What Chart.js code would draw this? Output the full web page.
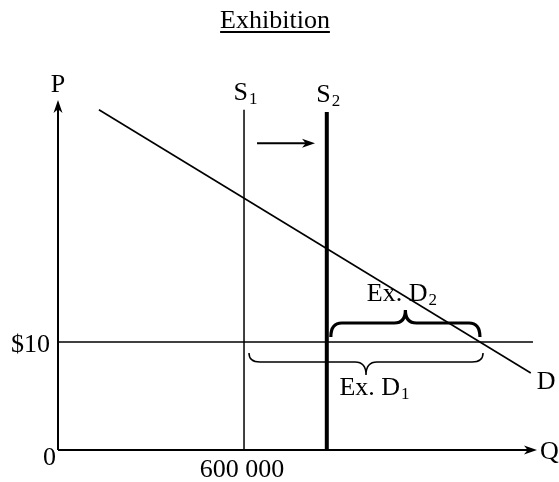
<!DOCTYPE html>
<html>
<head>
<meta charset="utf-8">
<script src="https://cdn.jsdelivr.net/npm/chart.js@4.4.1/dist/chart.umd.min.js"></script>
<style>
  html, body { margin: 0; padding: 0; background: #fff; }
  canvas { display: block; }
</style>
</head>
<body>
<canvas id="exhibitionChart" width="559" height="482"></canvas>
<script>
// data
const titleText = "Exhibition";
const qTickValues = [0, 600000];
const qTickLabels = ["0", "600 000"];
const pTickValues = [10];
const pTickLabels = ["$10"];
const supplyQ = [600000, 867000];
const supplyTop = [31.5, 31.3];
const supplySubs = ["1", "2"];
const demandQ = [132000, 1525000];
const demandP = [31.5, 7.13];
const worldPrice = 10;
const priceLineEnd = 1532000;
const shiftQ = [642000, 829000];
const shiftP = 28.4;
const excessD1 = [616000, 1371000];
const excessD2 = [880000, 1361000];
const qMax = 1545000;
const pMax = 32.4;

const FONT = "'Liberation Serif', 'Times New Roman', serif";

function pts(xs, ys) {
  return xs.map((x, i) => ({ x: x, y: ys[i] }));
}

function lineSet(data, width) {
  return {
    data: data,
    showLine: true,
    borderColor: "#000",
    borderWidth: width,
    pointRadius: 0,
    fill: false,
    clip: false
  };
}

// text with optional subscript
function subText(ctx, main, sub, x, y, align) {
  ctx.font = "26px " + FONT;
  const w1 = ctx.measureText(main).width;
  ctx.font = "17px " + FONT;
  const w2 = sub ? ctx.measureText(sub).width : 0;
  let left = x;
  if (align === "center") left = x - (w1 + w2) / 2;
  if (align === "right") left = x - (w1 + w2);
  ctx.textAlign = "left";
  ctx.textBaseline = "alphabetic";
  ctx.font = "26px " + FONT;
  ctx.fillText(main, left, y);
  if (sub) {
    ctx.font = "17px " + FONT;
    ctx.fillText(sub, left + w1 + 1, y + 4);
  }
}

function arrowHead(ctx, x, y, dx, dy) {
  const len = 13, half = 4.5;
  const px = -dy, py = dx;
  ctx.beginPath();
  ctx.moveTo(x, y);
  ctx.lineTo(x - dx * len + px * half, y - dy * len + py * half);
  ctx.lineTo(x - dx * len * 0.72, y - dy * len * 0.72);
  ctx.lineTo(x - dx * len - px * half, y - dy * len - py * half);
  ctx.closePath();
  ctx.fill();
}

// curly brace between x1 and x2; dir -1 opens downward (points up)
function brace(ctx, x1, x2, yb, dir, h, tip, width) {
  const xm = (x1 + x2) / 2;
  const yh = yb + dir * h;
  const yt = yb + dir * tip;
  const r = 11;
  ctx.beginPath();
  ctx.moveTo(x1, yb);
  ctx.quadraticCurveTo(x1, yh, x1 + r, yh);
  ctx.lineTo(xm - r, yh);
  ctx.quadraticCurveTo(xm, yh, xm, yt);
  ctx.quadraticCurveTo(xm, yh, xm + r, yh);
  ctx.lineTo(x2 - r, yh);
  ctx.quadraticCurveTo(x2, yh, x2, yb);
  ctx.lineWidth = width;
  ctx.strokeStyle = "#000";
  ctx.stroke();
  return { x: xm, y: yt };
}

const annotations = {
  id: "annotations",
  afterDatasetsDraw(chart) {
    const ctx = chart.ctx;
    const xs = chart.scales.x, ys = chart.scales.y;
    const X = v => xs.getPixelForValue(v);
    const Y = v => ys.getPixelForValue(v);
    ctx.save();
    ctx.fillStyle = "#000";

    // title, underlined
    ctx.font = "26px " + FONT;
    const tw = ctx.measureText(titleText).width;
    const tx = 275;
    subText(ctx, titleText, "", tx, 28, "center");
    ctx.fillRect(tx - tw / 2, 31, tw, 2);

    // axis arrows
    const ox = X(0), oy = Y(0);
    arrowHead(ctx, ox, Y(pMax), 0, -1);
    arrowHead(ctx, X(qMax), oy, 1, 0);
    arrowHead(ctx, X(shiftQ[1]), Y(shiftP), 1, 0);

    // axis labels
    subText(ctx, "P", "", ox, Y(pMax) - 8, "center");
    subText(ctx, "Q", "", X(qMax) + 3, oy + 8.5, "left");

    // ticks
    qTickValues.forEach((v, i) => {
      if (v === 0) subText(ctx, qTickLabels[i], "", ox - 2, oy + 15, "right");
      else subText(ctx, qTickLabels[i], "", X(v) - 2, oy + 27, "center");
    });
    pTickValues.forEach((v, i) => {
      subText(ctx, pTickLabels[i], "", ox - 8, Y(v) + 10, "right");
    });

    // supply labels
    supplyQ.forEach((q, i) => {
      subText(ctx, "S", supplySubs[i], X(q) + 1, Y(supplyTop[i]) - 10, "center");
    });

    // demand label
    subText(ctx, "D", "", X(demandQ[1]) + 6, Y(demandP[1]) + 16, "left");

    // excess demand braces
    const py = Y(worldPrice);
    const t2 = brace(ctx, X(excessD2[0]), X(excessD2[1]), py - 5, -1, 14, 27, 3.2);
    subText(ctx, "Ex. D", "2", t2.x - 4, t2.y - 9, "center");
    const t1 = brace(ctx, X(excessD1[0]), X(excessD1[1]), py + 11, 1, 9, 22, 1.5);
    subText(ctx, "Ex. D", "1", t1.x + 8, t1.y + 20, "center");

    ctx.restore();
  }
};

new Chart(document.getElementById("exhibitionChart").getContext("2d"), {
  type: "scatter",
  data: {
    datasets: [
      lineSet(pts([0, 0], [0, pMax - 0.6]), 2),
      lineSet(pts([0, qMax - 19000], [0, 0]), 2),
      lineSet(pts(demandQ, demandP), 1.6),
      lineSet(pts([supplyQ[0], supplyQ[0]], [0, supplyTop[0]]), 1.5),
      lineSet(pts([supplyQ[1], supplyQ[1]], [0, supplyTop[1]]), 4),
      lineSet(pts([0, priceLineEnd], [worldPrice, worldPrice]), 1.5),
      lineSet(pts(shiftQ.map((q, i) => i === 1 ? q - 15000 : q), [shiftP, shiftP]), 2)
    ]
  },
  options: {
    responsive: false,
    animation: false,
    layout: { padding: { left: 58, right: 22, top: 100, bottom: 32 } },
    scales: {
      x: { type: "linear", min: 0, max: qMax, display: false },
      y: { type: "linear", min: 0, max: pMax, display: false }
    },
    plugins: {
      legend: { display: false },
      title: { display: false },
      tooltip: { enabled: false }
    }
  },
  plugins: [annotations]
});
</script>
</body>
</html>
